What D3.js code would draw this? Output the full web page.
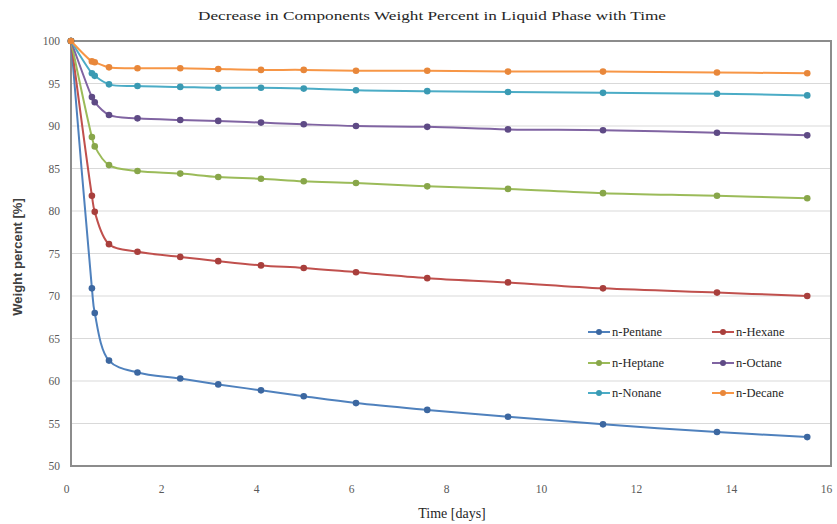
<!DOCTYPE html>
<html>
<head>
<meta charset="utf-8">
<script src="https://cdn.jsdelivr.net/npm/d3@7"></script>
<style>
  html, body { margin: 0; padding: 0; background: #fff; }
  svg { display: block; }
</style>
</head>
<body>
<svg id="chart" width="837" height="524"></svg>
<script>
// Sampling times in days
const times = [0, 0.44, 0.5, 0.8, 1.4, 2.3, 3.1, 4.0, 4.9, 6.0, 7.5, 9.2, 11.2, 13.6, 15.5];

// Weight percent of each component remaining in the liquid phase
const pentane = [100, 70.9, 68.0, 62.4, 61.0, 60.3, 59.6, 58.9, 58.2, 57.4, 56.6, 55.8, 54.9, 54.0, 53.4];
const hexane  = [100, 81.8, 79.9, 76.1, 75.2, 74.6, 74.1, 73.6, 73.3, 72.8, 72.1, 71.6, 70.9, 70.4, 70.0];
const heptane = [100, 88.7, 87.6, 85.4, 84.7, 84.4, 84.0, 83.8, 83.5, 83.3, 82.9, 82.6, 82.1, 81.8, 81.5];
const octane  = [100, 93.4, 92.8, 91.3, 90.9, 90.7, 90.6, 90.4, 90.2, 90.0, 89.9, 89.6, 89.5, 89.2, 88.9];
const nonane  = [100, 96.2, 95.9, 94.9, 94.7, 94.6, 94.5, 94.5, 94.4, 94.2, 94.1, 94.0, 93.9, 93.8, 93.6];
const decane  = [100, 97.6, 97.5, 96.9, 96.8, 96.8, 96.7, 96.6, 96.6, 96.5, 96.5, 96.4, 96.4, 96.3, 96.2];

const seriesNames = ["n-Pentane", "n-Hexane", "n-Heptane", "n-Octane", "n-Nonane", "n-Decane"];
const seriesValues = [pentane, hexane, heptane, octane, nonane, decane];
const lineColors   = ["#4F81BD", "#C0504D", "#9BBB59", "#8064A2", "#4BACC6", "#F79646"];
const markerColors = ["#3c67a0", "#a83f3c", "#88a64a", "#5e4a85", "#3a9ab3", "#e8873a"];

const xTicks = [0, 2, 4, 6, 8, 10, 12, 14, 16];
const yTicks = [50, 55, 60, 65, 70, 75, 80, 85, 90, 95, 100];

const titleText = "Decrease in Components Weight Percent in Liquid Phase with Time";
const xTitle = "Time [days]";
const yTitle = "Weight percent [%]";

const svg = d3.select("#chart");
const plot = { left: 71, right: 831, top: 41, bottom: 466 };

const x = d3.scaleLinear().domain([0, 16]).range([plot.left, plot.right]);
const y = d3.scaleLinear().domain([50, 100]).range([plot.bottom, plot.top]);

const serif = "'Liberation Serif', 'DejaVu Serif', serif";

// Title
svg.append("text")
  .attr("x", 432).attr("y", 20)
  .attr("text-anchor", "middle")
  .attr("font-family", serif)
  .attr("font-size", 13.5)
  .attr("fill", "#262626")
  .attr("textLength", 468)
  .attr("lengthAdjust", "spacingAndGlyphs")
  .text(titleText);

// Horizontal gridlines
svg.append("g")
  .selectAll("line")
  .data(yTicks.filter(v => v > 50 && v < 100))
  .join("line")
  .attr("x1", plot.left).attr("x2", plot.right)
  .attr("y1", d => y(d)).attr("y2", d => y(d))
  .attr("stroke", "#d9d9d9")
  .attr("stroke-width", 1);

// Y axis labels
const yAxis = d3.axisLeft(y).tickValues(yTicks).tickSize(0).tickPadding(11);
const gy = svg.append("g")
  .attr("transform", `translate(${plot.left},0)`)
  .call(yAxis);
gy.select(".domain").remove();
gy.selectAll("text")
  .attr("font-family", serif)
  .attr("font-size", 11.5)
  .attr("fill", "#595959");

// X axis labels (sit a little left of their ticks)
const xAxis = d3.axisBottom(x).tickValues(xTicks).tickSize(0).tickPadding(19);
const gx = svg.append("g")
  .attr("transform", `translate(0,${plot.bottom})`)
  .call(xAxis);
gx.select(".domain").remove();
gx.selectAll("text")
  .attr("dx", -5)
  .attr("font-family", serif)
  .attr("font-size", 11.5)
  .attr("fill", "#595959");

// Plot area border
svg.append("rect")
  .attr("x", plot.left).attr("y", plot.top)
  .attr("width", plot.right - plot.left)
  .attr("height", plot.bottom - plot.top)
  .attr("fill", "none")
  .attr("stroke", "#8c8c8c")
  .attr("stroke-width", 2);

// Axis titles
svg.append("text")
  .attr("x", 452).attr("y", 518)
  .attr("text-anchor", "middle")
  .attr("font-family", serif)
  .attr("font-size", 14)
  .attr("fill", "#262626")
  .text(xTitle);

svg.append("text")
  .attr("transform", "translate(22,257) rotate(-90)")
  .attr("text-anchor", "middle")
  .attr("font-family", "'Liberation Sans', Arial, sans-serif")
  .attr("font-size", 13)
  .attr("font-weight", "bold")
  .attr("fill", "#404040")
  .text(yTitle);

// Series: smoothed lines with point markers
const line = d3.line()
  .x(d => x(d[0]))
  .y(d => y(d[1]))
  .curve(d3.curveCatmullRom.alpha(0.5));

const gSeries = svg.append("g");
seriesValues.forEach((vals, i) => {
  const pts = times.map((t, k) => [t, vals[k]]);
  gSeries.append("path")
    .datum(pts)
    .attr("d", line)
    .attr("fill", "none")
    .attr("stroke", lineColors[i])
    .attr("stroke-width", 2);
  gSeries.append("g")
    .selectAll("circle")
    .data(pts)
    .join("circle")
    .attr("cx", d => x(d[0]))
    .attr("cy", d => y(d[1]))
    .attr("r", 3.3)
    .attr("fill", markerColors[i]);
});

// Legend: two columns, three rows
const legendCols = [588, 712];
const legendRows = [332, 363, 393];
const legend = svg.append("g");
seriesNames.forEach((name, i) => {
  const lx = legendCols[i % 2];
  const ly = legendRows[Math.floor(i / 2)];
  const g = legend.append("g");
  g.append("line")
    .attr("x1", lx).attr("x2", lx + 22)
    .attr("y1", ly).attr("y2", ly)
    .attr("stroke", lineColors[i])
    .attr("stroke-width", 2);
  g.append("circle")
    .attr("cx", lx + 11).attr("cy", ly)
    .attr("r", 3)
    .attr("fill", markerColors[i]);
  g.append("text")
    .attr("x", lx + 24).attr("y", ly + 4)
    .attr("font-family", serif)
    .attr("font-size", 12.5)
    .attr("fill", "#262626")
    .text(name);
});
</script>
</body>
</html>
